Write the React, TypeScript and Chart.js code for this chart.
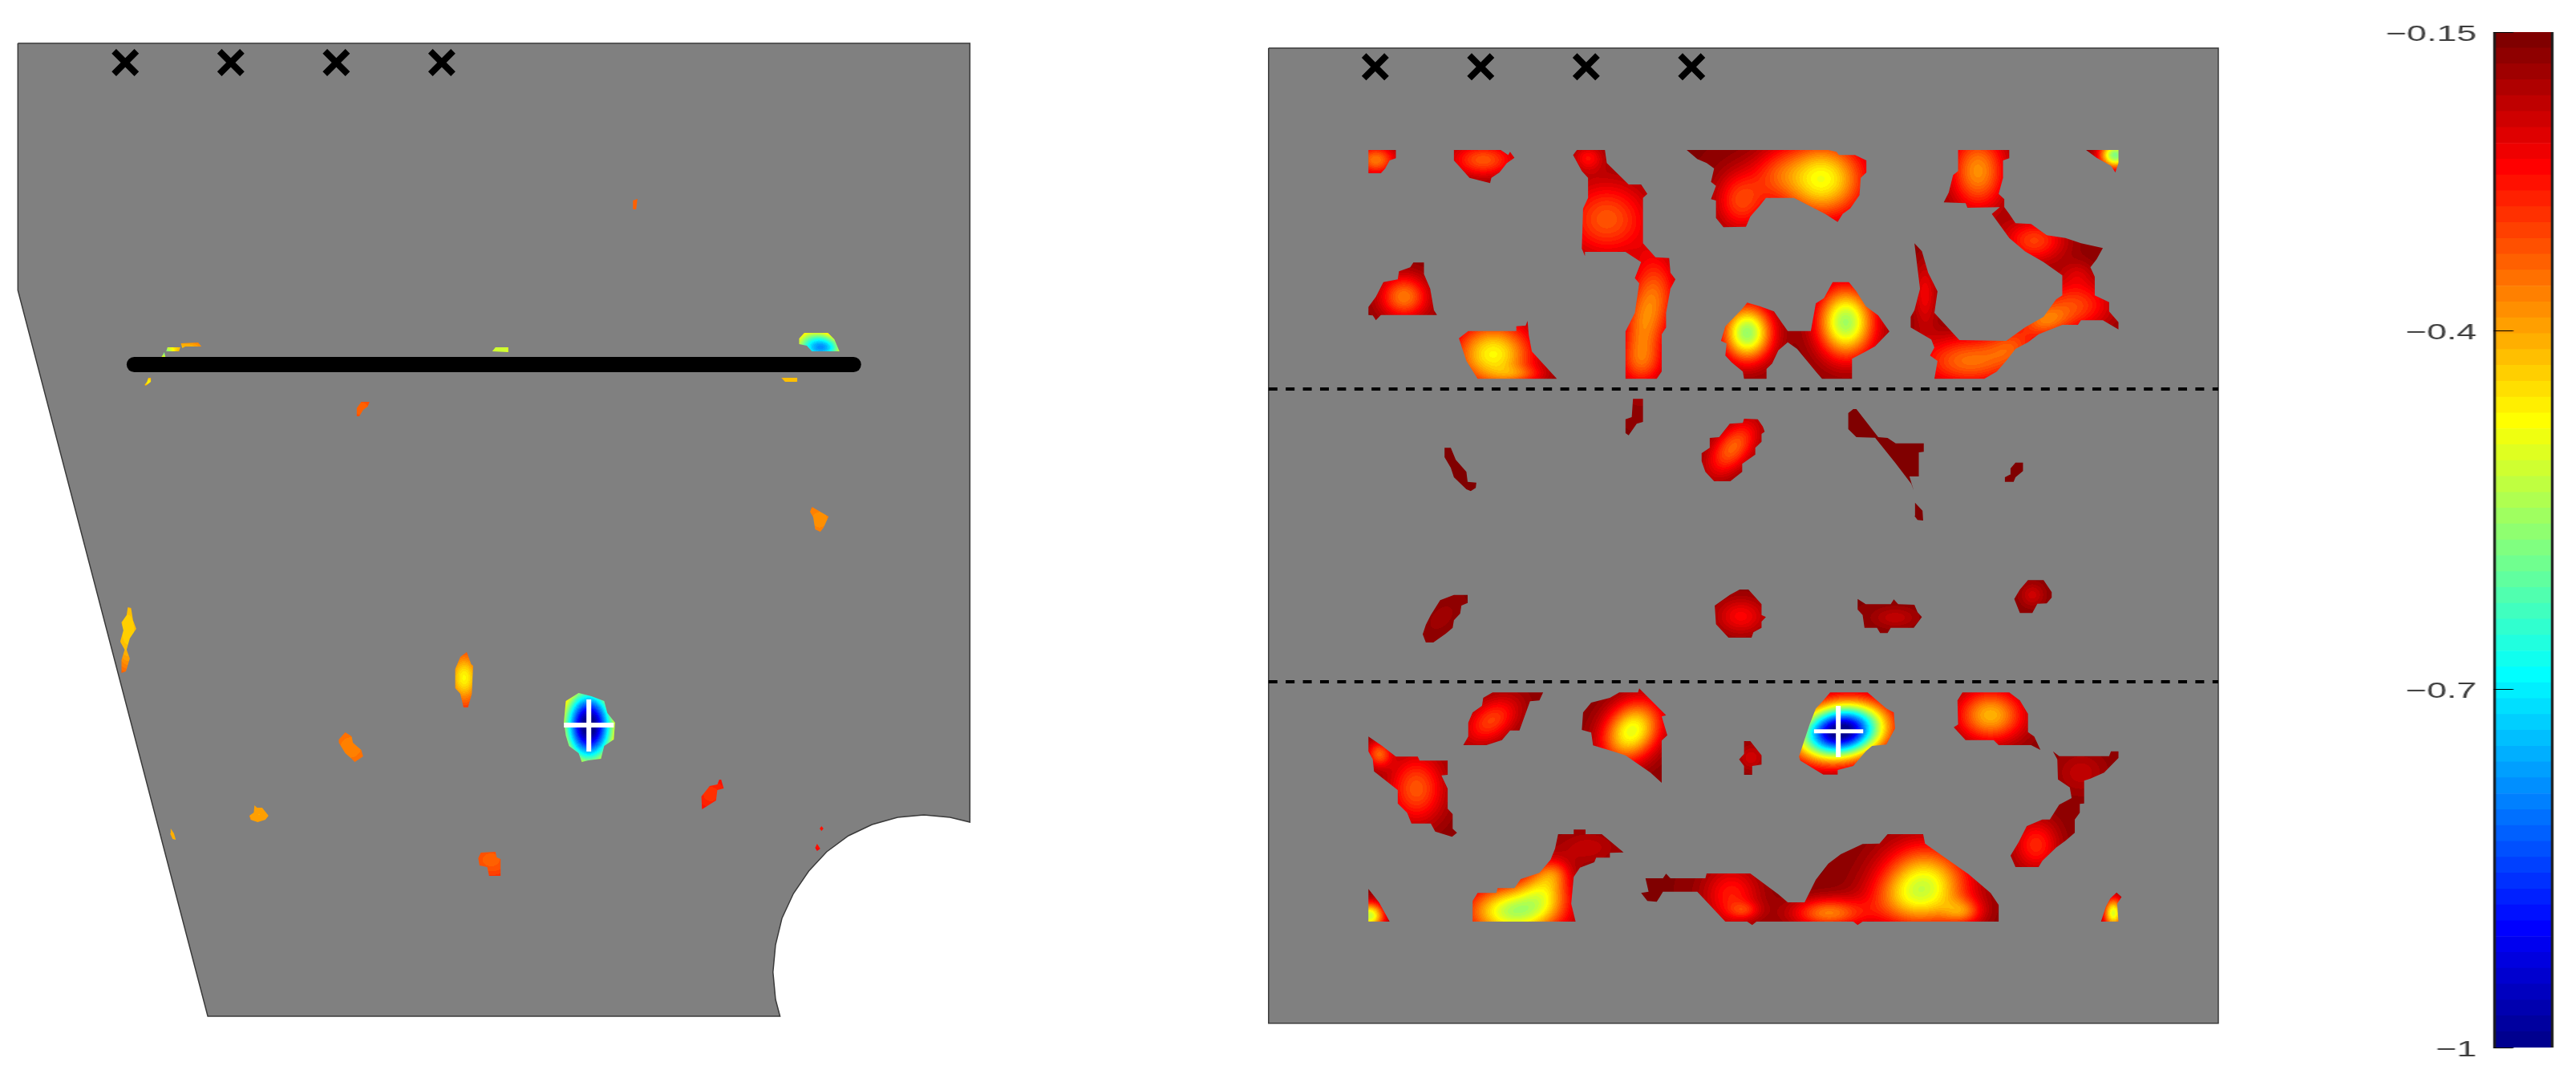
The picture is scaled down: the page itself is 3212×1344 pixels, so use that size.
import React, { useEffect, useRef } from "react";
import { Chart, registerables } from "chart.js";

Chart.register(...registerables);

type Pt = [number, number];
// [centre x, centre y, spread x, spread y, lean, depth below -0.15]
type Spot = [number, number, number, number, number, number];

const GREY = "#808080";
const LINE = "#3a3a3a";

/* ---------- left plate, x in plate units (0-1568), y in 0-1344 ---------- */
const LEFT_PLATE: Pt[] = [
  [28, 54], [1517, 54], [1517, 1025], [1486, 1019], [1445, 1016], [1404, 1019], [1364, 1028], [1327, 1042],
  [1293, 1062], [1265, 1086], [1241, 1114], [1223, 1145], [1213, 1178], [1209, 1212], [1213, 1246], [1220, 1267], [325, 1267],
  [28, 362], [28, 54],
];
const LEFT_MARKERS: Pt[] = [[196, 78], [361, 78], [526, 78], [691, 78]];
const LEFT_BAR: Pt[] = [[210, 454.5], [1335, 454.5]];
const LEFT_CROSS_V: Pt[] = [[921, 872], [921, 937]];
const LEFT_CROSS_H: Pt[] = [[882, 904], [960, 904]];
const LEFT_BLOBS: Pt[][] = [
  [[283, 428], [310, 427], [315, 432], [290, 432], [285, 434]],
  [[262, 433], [282, 433], [280, 438], [260, 438]],
  [[257, 439], [259, 446], [252, 446]],
  [[232, 471], [236, 471], [236, 476], [228, 481], [226, 480], [230, 476]],
  [[770, 438], [775, 433], [795, 433], [795, 439]],
  [[1222, 471], [1247, 471], [1247, 476], [1228, 476]],
  [[1258, 415], [1295, 415], [1305, 423], [1313, 438], [1270, 438], [1262, 431], [1250, 429], [1250, 422]],
  [[990, 250], [997, 248], [995, 261], [990, 261]],
  [[565, 501], [578, 501], [575, 507], [568, 511], [562, 519], [558, 519], [558, 509]],
  [[1270, 632], [1283, 638], [1296, 644], [1288, 658], [1283, 663], [1275, 660], [1272, 645], [1267, 638]],
  [[200, 757], [205, 758], [208, 773], [213, 784], [203, 796], [198, 810], [203, 821], [197, 837], [190, 839], [190, 823], [195, 810], [188, 800], [193, 786], [190, 776], [198, 767]],
  [[730, 813], [737, 828], [740, 830], [738, 865], [732, 882], [725, 882], [720, 865], [712, 858], [712, 834], [720, 819]],
  [[905, 864], [925, 868], [945, 874], [950, 889], [962, 901], [960, 922], [945, 930], [940, 946], [920, 948], [910, 950], [905, 939], [890, 930], [885, 917], [882, 900], [885, 874], [895, 869]],
  [[540, 913], [550, 918], [552, 926], [565, 935], [568, 943], [555, 950], [550, 946], [540, 939], [530, 926], [530, 922]],
  [[398, 1004], [402, 1007], [410, 1007], [420, 1017], [415, 1022], [403, 1025], [392, 1022], [390, 1017], [397, 1013]],
  [[267, 1033], [272, 1039], [275, 1047], [270, 1046], [266, 1039]],
  [[752, 1063], [775, 1062], [777, 1069], [783, 1071], [783, 1092], [765, 1092], [762, 1081], [750, 1079], [748, 1070]],
  [[1125, 972], [1128, 972], [1132, 983], [1122, 985], [1120, 998], [1098, 1009], [1097, 993], [1105, 985], [1110, 980], [1122, 978]],
  [[1285, 1030], [1288, 1033], [1285, 1036], [1282, 1033]],
  [[1278, 1052], [1283, 1058], [1278, 1061], [1275, 1057]],
];
const LEFT_SPOTS: Spot[] = [
  [292, 432, 40, 10, 0, 0.25], [256, 441, 12, 8, 0, 0.3], [232, 476, 12, 8, 0, 0.3],
  [782, 436, 40, 20, 0, 0.36], [1235, 474, 40, 20, 0, 0.26],
  [1290, 435, 26, 12, 0, 0.38], [1270, 424, 32, 18, 0, 0.3],
  [992, 255, 30, 30, 0, 0.18], [566, 510, 40, 30, 0, 0.18], [1282, 648, 50, 40, 0, 0.22],
  [200, 785, 30, 60, 0, 0.28], [726, 845, 14, 18, 0, 0.15], [726, 845, 60, 60, 0, 0.16],
  [921, 905, 30, 36, 0, 0.87],
  [548, 932, 50, 40, 0, 0.21], [405, 1016, 40, 40, 0, 0.24], [270, 1040, 30, 30, 0, 0.25],
  [768, 1072, 50, 30, 0, 0.18], [1112, 990, 40, 30, 0, 0.14], [1285, 1040, 40, 40, 0, 0.12],
];

/* ---------- right plate, x in plate units (0-1568), y in 0-3780 ---------- */
const RIGHT_PLATE: Pt[] = [[28, 60], [1550, 60], [1550, 3707], [28, 3707], [28, 60]];
const RIGHT_MARKERS: Pt[] = [[199, 130], [368, 130], [537, 130], [706, 130]];
const RIGHT_DASH_A: Pt[] = [[28, 1335], [1550, 1335]];
const RIGHT_DASH_B: Pt[] = [[28, 2430], [1550, 2430]];
const RIGHT_CROSS_V: Pt[] = [[941, 2520], [941, 2712]];
const RIGHT_CROSS_H: Pt[] = [[902, 2615], [981, 2615]];

const UPPER_BLOBS: Pt[][] = [
  [[188, 441], [232, 441], [232, 472], [222, 480], [215, 510], [208, 528], [188, 528]],
  [[325, 441], [400, 441], [412, 460], [415, 448], [422, 470], [410, 490], [398, 525], [385, 545], [383, 565], [350, 545], [325, 480]],
  [[522, 441], [567, 441], [570, 490], [605, 570], [625, 570], [635, 605], [628, 620], [628, 790], [648, 842], [670, 845], [672, 900], [680, 925], [672, 960], [665, 1050], [665, 1105], [658, 1130], [658, 1270], [650, 1297], [600, 1297], [600, 1120], [615, 1050], [622, 940], [615, 920], [625, 860], [600, 822], [535, 822], [535, 838], [530, 810], [532, 660], [540, 620], [540, 545], [530, 520], [516, 460]],
  [[698, 441], [925, 441], [938, 448], [942, 460], [968, 460], [986, 480], [986, 525], [977, 545], [975, 610], [960, 660], [948, 680], [940, 710], [920, 680], [870, 620], [825, 620], [815, 650], [800, 690], [793, 728], [757, 730], [745, 695], [745, 630], [737, 625], [745, 575], [737, 560], [742, 510], [730, 490], [715, 475]],
  [[1133, 441], [1215, 441], [1215, 472], [1205, 480], [1205, 545], [1198, 605], [1207, 625], [1207, 655], [1215, 680], [1225, 715], [1250, 718], [1275, 760], [1305, 770], [1330, 790], [1365, 808], [1355, 850], [1345, 880], [1352, 915], [1352, 985], [1375, 1010], [1375, 1045], [1390, 1085], [1390, 1112], [1365, 1078], [1330, 1078], [1325, 1095], [1300, 1095], [1262, 1130], [1245, 1160], [1225, 1185], [1210, 1230], [1195, 1270], [1175, 1297], [1095, 1297], [1100, 1230], [1088, 1210], [1095, 1180], [1090, 1150], [1057, 1105], [1057, 1065], [1063, 1040], [1072, 960], [1063, 790], [1075, 820], [1085, 900], [1100, 970], [1095, 1050], [1135, 1152], [1210, 1155], [1240, 1105], [1270, 1065], [1290, 1000], [1300, 985], [1300, 910], [1270, 860], [1240, 820], [1215, 770], [1187, 680], [1200, 655], [1148, 657], [1145, 640], [1110, 637], [1118, 600], [1125, 535], [1133, 520]],
  [[1338, 441], [1390, 441], [1390, 490], [1385, 525], [1378, 500], [1355, 470]],
  [[260, 862], [277, 862], [277, 905], [287, 960], [293, 1040], [298, 1058], [208, 1058], [200, 1078], [195, 1060], [188, 1058], [188, 1028], [200, 990], [212, 935], [235, 925], [237, 895], [255, 880]],
  [[348, 1118], [425, 1118], [425, 1100], [440, 1098], [443, 1080], [445, 1135], [450, 1195], [490, 1297], [363, 1297], [345, 1230], [333, 1145]],
  [[795, 1012], [815, 1025], [838, 1045], [850, 1085], [860, 1118], [897, 1118], [905, 1015], [918, 995], [932, 935], [958, 935], [970, 970], [985, 1025], [1005, 1060], [1023, 1120], [1000, 1175], [985, 1195], [963, 1222], [963, 1297], [915, 1297], [905, 1270], [875, 1185], [860, 1160], [845, 1190], [835, 1240], [826, 1260], [826, 1297], [790, 1297], [788, 1270], [770, 1235], [760, 1210], [762, 1165], [753, 1155], [760, 1100], [785, 1040]],
];
const UPPER_SPOTS: Spot[] = [
  [200, 478, 22, 38, 0, 0.2], [372, 478, 36, 45, 0, 0.17],
  [570, 700, 48, 100, 0, 0.17], [540, 470, 17, 34, 0, 0.1], [650, 980, 25, 110, 0, 0.15], [625, 1130, 23, 120, 0, 0.16], [625, 1240, 28, 56, 0, 0.08],
  [915, 550, 47, 100, 0, 0.32], [785, 630, 28, 78, 0, 0.15], [840, 530, 28, 67, 0, 0.08],
  [1165, 520, 31, 100, 0, 0.22], [1255, 780, 34, 56, 0, 0.15], [1320, 1020, 42, 67, 0, 0.15], [1270, 1080, 28, 45, 0, 0.15], [1150, 1230, 56, 67, 0, 0.19], [1220, 1170, 28, 56, 0, 0.11], [1080, 980, 14, 90, 0, 0.09], [1325, 900, 17, 34, 0, 0.04],
  [1385, 460, 17, 34, 0, 0.42], [245, 990, 27, 56, 0, 0.2], [388, 1205, 43, 84, 0, 0.31], [430, 1280, 28, 22, 0, 0.08],
  [795, 1125, 27, 72, 0, 0.4], [953, 1085, 31, 90, 0, 0.39],
];

const MIDDLE_BLOBS: Pt[][] = [
  [[310, 235], [320, 235], [328, 280], [345, 325], [347, 362], [361, 365], [360, 385], [352, 397], [345, 390], [325, 345], [320, 310], [310, 270]],
  [[612, 52], [628, 52], [628, 138], [618, 145], [612, 165], [605, 188], [600, 180], [600, 128], [610, 120]],
  [[790, 126], [812, 128], [820, 155], [823, 175], [818, 183], [818, 212], [808, 235], [808, 260], [787, 295], [787, 325], [768, 360], [742, 360], [728, 325], [722, 285], [722, 255], [735, 235], [735, 198], [750, 195], [767, 145], [788, 142]],
  [[957, 105], [965, 90], [970, 90], [1005, 195], [1020, 198], [1033, 218], [1078, 218], [1078, 250], [1070, 252], [1070, 342], [1055, 342], [1062, 395], [1058, 370], [1032, 290], [1000, 197], [970, 195], [957, 165]],
  [[1064, 440], [1076, 470], [1077, 507], [1068, 505], [1063, 490]],
  [[1225, 290], [1237, 290], [1237, 322], [1225, 345], [1222, 362], [1208, 362], [1208, 345], [1216, 335], [1217, 312]],
  [[325, 785], [347, 785], [347, 815], [337, 825], [335, 855], [325, 880], [323, 908], [312, 930], [292, 963], [280, 963], [275, 932], [280, 897], [288, 860], [303, 805]],
  [[783, 765], [797, 765], [818, 820], [818, 860], [825, 868], [818, 885], [818, 908], [805, 925], [802, 945], [765, 945], [745, 895], [743, 825], [767, 785]],
  [[972, 800], [985, 820], [1025, 820], [1030, 802], [1037, 820], [1063, 822], [1068, 850], [1075, 868], [1062, 908], [1025, 908], [1020, 928], [1008, 928], [1003, 908], [983, 908], [980, 860], [972, 840]],
  [[1245, 730], [1270, 730], [1283, 775], [1283, 795], [1275, 817], [1260, 818], [1252, 853], [1232, 853], [1223, 800], [1232, 765]],
];
const MIDDLE_SPOTS: Spot[] = [
  [772, 235, 24, 72, -0.2, 0.18], [305, 870, 15, 40, -0.2, 0.025], [785, 865, 28, 48, 0, 0.1], [1032, 870, 25, 28, 0, 0.05], [1252, 785, 14, 32, 0, 0.06],
];

const LOWER_BLOBS: Pt[][] = [
  [[387, 70], [468, 70], [462, 100], [447, 103], [430, 212], [415, 212], [402, 248], [377, 267], [340, 267], [348, 235], [348, 183], [355, 145], [370, 120], [372, 90]],
  [[622, 55], [665, 155], [658, 160], [667, 230], [658, 250], [658, 408], [640, 370], [600, 305], [580, 290], [548, 268], [545, 220], [530, 210], [532, 145], [545, 108], [575, 90], [590, 70], [620, 70]],
  [[928, 70], [988, 70], [1018, 130], [1030, 145], [1032, 205], [1018, 265], [995, 270], [985, 290], [965, 345], [940, 360], [940, 377], [917, 377], [880, 325], [878, 310], [885, 260], [895, 190], [905, 130], [915, 105]],
  [[790, 252], [800, 252], [818, 305], [818, 340], [803, 345], [803, 378], [790, 378], [790, 345], [782, 320], [790, 300]],
  [[1140, 70], [1215, 70], [1232, 100], [1245, 150], [1245, 218], [1255, 235], [1265, 285], [1250, 267], [1198, 267], [1190, 248], [1145, 248], [1126, 200], [1133, 190], [1132, 100]],
  [[188, 235], [210, 270], [232, 310], [267, 310], [270, 325], [315, 325], [315, 378], [305, 380], [315, 430], [315, 505], [323, 525], [323, 580], [330, 595], [322, 610], [295, 590], [288, 560], [257, 560], [250, 520], [235, 485], [235, 435], [197, 365], [195, 320], [188, 290]],
  [[1285, 290], [1295, 308], [1375, 308], [1378, 290], [1390, 290], [1390, 315], [1367, 370], [1345, 392], [1335, 400], [1335, 485], [1328, 487], [1328, 520], [1320, 545], [1320, 595], [1305, 625], [1290, 650], [1268, 700], [1262, 723], [1225, 723], [1217, 680], [1230, 630], [1243, 570], [1268, 545], [1280, 545], [1295, 490], [1315, 465], [1312, 425], [1293, 395], [1292, 320]],
  [[188, 805], [205, 855], [222, 927], [188, 927]],
  [[355, 927], [355, 850], [363, 820], [393, 820], [395, 802], [422, 802], [432, 768], [462, 745], [480, 695], [487, 655], [492, 600], [517, 600], [517, 583], [536, 583], [536, 600], [562, 600], [597, 668], [575, 670], [575, 688], [553, 688], [550, 705], [527, 725], [517, 760], [513, 860], [520, 927]],
  [[632, 765], [660, 765], [665, 748], [672, 765], [728, 765], [730, 747], [800, 747], [845, 825], [860, 855], [887, 855], [905, 770], [925, 710], [945, 675], [980, 637], [1007, 635], [1020, 600], [1077, 600], [1080, 635], [1150, 750], [1185, 820], [1198, 865], [1198, 927], [980, 927], [972, 940], [965, 927], [810, 927], [803, 940], [795, 927], [760, 927], [715, 815], [660, 815], [655, 835], [650, 853], [635, 850], [625, 820], [637, 815]],
  [[1387, 818], [1395, 835], [1388, 860], [1390, 927], [1362, 927], [1370, 870], [1377, 840]],
];
const LOWER_SPOTS: Spot[] = [
  [385, 175, 28, 62, -0.2, 0.15], [610, 215, 31, 78, -0.1, 0.33], [945, 215, 46, 70, -0.1, 0.87], [800, 315, 14, 34, 0, 0.06],
  [1185, 155, 37, 67, 0, 0.25], [265, 430, 31, 90, 0, 0.17], [205, 300, 14, 34, 0, 0.17], [1258, 640, 25, 67, 0, 0.13], [1330, 370, 28, 56, 0, 0.05],
  [190, 905, 16, 34, 0, 0.36], [420, 890, 50, 67, 0, 0.37], [470, 800, 28, 67, 0, 0.19], [485, 745, 17, 34, 0, 0.08], [540, 650, 34, 45, 0, 0.05],
  [1080, 790, 47, 100, 0, 0.32], [1140, 890, 22, 34, 0, 0.14], [770, 830, 31, 78, 0, 0.12], [790, 885, 17, 22, 0, 0.08], [925, 895, 39, 39, 0, 0.2], [1040, 850, 45, 67, 0, 0.08],
  [1382, 895, 11, 39, 0, 0.34],
];

/* ---------- colour bar ---------- */
const COLORBAR_EDGES: number[] = [
  -1, -0.9867, -0.9734, -0.9602, -0.9469, -0.9336, -0.9203, -0.907, -0.8938, -0.8805, -0.8672, -0.8539, -0.8406, -0.8273, -0.8141, -0.8008,
  -0.7875, -0.7742, -0.7609, -0.7477, -0.7344, -0.7211, -0.7078, -0.6945, -0.6813, -0.668, -0.6547, -0.6414, -0.6281, -0.6148, -0.6016, -0.5883,
  -0.575, -0.5617, -0.5484, -0.5352, -0.5219, -0.5086, -0.4953, -0.482, -0.4688, -0.4555, -0.4422, -0.4289, -0.4156, -0.4023, -0.3891, -0.3758,
  -0.3625, -0.3492, -0.3359, -0.3227, -0.3094, -0.2961, -0.2828, -0.2695, -0.2563, -0.243, -0.2297, -0.2164, -0.2031, -0.1898, -0.1766, -0.1633, -0.15,
];
const COLORBAR_COLORS: string[] = [
  "#00008F", "#00009F", "#0000AF", "#0000BF", "#0000CF", "#0000DF", "#0000EF", "#0000FF",
  "#0010FF", "#0020FF", "#0030FF", "#0040FF", "#0050FF", "#0060FF", "#0070FF", "#0080FF",
  "#008FFF", "#009FFF", "#00AFFF", "#00BFFF", "#00CFFF", "#00DFFF", "#00EFFF", "#00FFFF",
  "#10FFEF", "#20FFDF", "#30FFCF", "#40FFBF", "#50FFAF", "#60FF9F", "#70FF8F", "#80FF80",
  "#8FFF70", "#9FFF60", "#AFFF50", "#BFFF40", "#CFFF30", "#DFFF20", "#EFFF10", "#FFFF00",
  "#FFEF00", "#FFDF00", "#FFCF00", "#FFBF00", "#FFAF00", "#FF9F00", "#FF8F00", "#FF8000",
  "#FF7000", "#FF6000", "#FF5000", "#FF4000", "#FF3000", "#FF2000", "#FF1000", "#FF0000",
  "#EF0000", "#DF0000", "#CF0000", "#BF0000", "#AF0000", "#9F0000", "#8F0000", "#800000",
];
const COLORBAR_TICKS: number[] = [-1, -0.7, -0.4, -0.15];

/* ---------- helpers ---------- */
const BASE_DEPTH = 0.012;
const shiftY = (pts: Pt[], dy: number): Pt[] => pts.map(([x, y]) => [x, y + dy] as Pt);
const shiftSpots = (spots: Spot[], dy: number): Spot[] =>
  spots.map(([x, y, a, b, c, d]) => [x, y + dy, a, b, c, d] as Spot);
const toXY = (pts: Pt[]) => pts.map(([x, y]) => ({ x, y }));

function fieldPattern(chart: any, spots: Spot[]) {
  const W = chart.width;
  const H = chart.height;
  const xs = new Float32Array(W);
  const ys = new Float32Array(H);
  for (let i = 0; i < W; i++) xs[i] = chart.scales.x.getValueForPixel(i + 0.5);
  for (let j = 0; j < H; j++) ys[j] = chart.scales.y.getValueForPixel(j + 0.5);
  const depth = new Float32Array(W * H);
  for (const [cx, cy, sx, sy, lean, amp] of spots) {
    for (let j = 0; j < H; j++) {
      const dy = (ys[j] - cy) / sy;
      if (Math.abs(dy) > 4) continue;
      const mid = cx + lean * (ys[j] - cy);
      for (let i = 0; i < W; i++) {
        const dx = (xs[i] - mid) / sx;
        if (Math.abs(dx) > 4) continue;
        depth[j * W + i] += amp * Math.exp(-0.5 * (dx * dx + dy * dy));
      }
    }
  }
  const rgb = COLORBAR_COLORS.map((c) => [
    parseInt(c.slice(1, 3), 16),
    parseInt(c.slice(3, 5), 16),
    parseInt(c.slice(5, 7), 16),
  ]);
  const off = document.createElement("canvas");
  off.width = W;
  off.height = H;
  const octx = off.getContext("2d")!;
  const img = octx.createImageData(W, H);
  const lo = COLORBAR_EDGES[0];
  const hi = COLORBAR_EDGES[COLORBAR_EDGES.length - 1];
  for (let p = 0; p < W * H; p++) {
    const v = hi - BASE_DEPTH - depth[p];
    const idx = Math.max(0, Math.min(rgb.length - 1, Math.floor(((v - lo) / (hi - lo)) * rgb.length)));
    const c = rgb[idx];
    img.data[p * 4] = c[0];
    img.data[p * 4 + 1] = c[1];
    img.data[p * 4 + 2] = c[2];
    img.data[p * 4 + 3] = 255;
  }
  octx.putImageData(img, 0, 0);
  return chart.ctx.createPattern(off, "no-repeat");
}

const lineSet = (label: string, pts: Pt[], color: string, width: number, extra: any = {}) => ({
  label,
  data: toXY(pts),
  showLine: true,
  borderColor: color,
  borderWidth: width,
  pointRadius: 0,
  tension: 0,
  fill: false,
  ...extra,
});
const markerSet = (label: string, pts: Pt[]) => ({
  label,
  data: toXY(pts),
  showLine: false,
  pointStyle: "crossRot",
  pointRadius: 20,
  pointBorderWidth: 8,
  pointBorderColor: "#000",
});
const blobSets = (blobs: Pt[][]) =>
  blobs.map((b, i) =>
    lineSet(`blob ${i}`, [...b, b[0]], "rgba(0,0,0,0)", 0, { fill: "shape", backgroundColor: "#800000", isBlob: true }),
  );

function plateChart(canvas: HTMLCanvasElement, yMax: number, datasets: any[], spots: Spot[]) {
  const chart = new Chart(canvas, {
    type: "scatter",
    data: { datasets },
    options: {
      responsive: false,
      maintainAspectRatio: false,
      devicePixelRatio: 1,
      animation: false,
      events: [],
      layout: { padding: 0, autoPadding: false },
      plugins: { legend: { display: false }, tooltip: { enabled: false } },
      scales: {
        x: { type: "linear", display: false, min: 0, max: 1568 },
        y: { type: "linear", display: false, min: 0, max: yMax, reverse: true },
      },
    },
  } as any);
  const pattern = fieldPattern(chart, spots);
  chart.data.datasets.forEach((d: any) => {
    if (d.isBlob) d.backgroundColor = pattern;
  });
  chart.update();
  return chart;
}

const colorbarFrame = {
  id: "colorbarFrame",
  afterDatasetsDraw(chart: any) {
    const { ctx, chartArea: a, scales } = chart;
    ctx.save();
    ctx.strokeStyle = "#1c1c1c";
    ctx.lineWidth = 2;
    ctx.beginPath();
    ctx.moveTo(a.left + 1, a.top);
    ctx.lineTo(a.left + 1, a.bottom);
    ctx.moveTo(a.right - 1, a.top);
    ctx.lineTo(a.right - 1, a.bottom);
    ctx.stroke();
    ctx.lineWidth = 1;
    ctx.strokeStyle = "#000";
    ctx.beginPath();
    for (const t of COLORBAR_TICKS) {
      const y = Math.round(scales.y.getPixelForValue(t)) + 0.5;
      ctx.moveTo(a.left, y);
      ctx.lineTo(a.left + 15.6, y);
    }
    ctx.stroke();
    ctx.restore();
  },
};

const BAR_STRETCH = 1.6;

export default function App() {
  const leftRef = useRef<HTMLCanvasElement>(null);
  const rightRef = useRef<HTMLCanvasElement>(null);
  const barRef = useRef<HTMLCanvasElement>(null);

  useEffect(() => {
    const left = plateChart(
      leftRef.current!,
      1344,
      [
        lineSet("cross h", LEFT_CROSS_H, "#fff", 6),
        lineSet("cross v", LEFT_CROSS_V, "#fff", 6),
        markerSet("sensors", LEFT_MARKERS),
        lineSet("crack", LEFT_BAR, "#000", 19, { borderCapStyle: "round" }),
        ...blobSets(LEFT_BLOBS),
        lineSet("plate", LEFT_PLATE, LINE, 1.5, { fill: "shape", backgroundColor: GREY }),
      ],
      LEFT_SPOTS,
    );
    const right = plateChart(
      rightRef.current!,
      3780,
      [
        lineSet("cross h", RIGHT_CROSS_H, "#fff", 5),
        lineSet("cross v", RIGHT_CROSS_V, "#fff", 6),
        markerSet("sensors", RIGHT_MARKERS),
        lineSet("dash a", RIGHT_DASH_A, "#000", 4, { borderDash: [11, 10.4] }),
        lineSet("dash b", RIGHT_DASH_B, "#000", 4, { borderDash: [11, 10.4] }),
        ...blobSets(UPPER_BLOBS),
        ...blobSets(MIDDLE_BLOBS.map((b) => shiftY(b, 1320))),
        ...blobSets(LOWER_BLOBS.map((b) => shiftY(b, 2400))),
        lineSet("plate", RIGHT_PLATE, LINE, 1.5, { fill: "shape", backgroundColor: GREY }),
      ],
      [...UPPER_SPOTS, ...shiftSpots(MIDDLE_SPOTS, 1320), ...shiftSpots(LOWER_SPOTS, 2400)],
    );
    const bar = new Chart(barRef.current!, {
      type: "bar",
      data: {
        labels: ["level"],
        datasets: COLORBAR_COLORS.map((c, i) => ({
          label: `band ${i}`,
          data: [[COLORBAR_EDGES[i], COLORBAR_EDGES[i + 1]]],
          backgroundColor: c,
          borderWidth: 0,
          grouped: false,
          barPercentage: 1,
          categoryPercentage: 1,
        })),
      },
      options: {
        responsive: false,
        maintainAspectRatio: false,
        devicePixelRatio: 1,
        animation: false,
        events: [],
        layout: { padding: { left: 0, right: 10, top: 40, bottom: 38 }, autoPadding: false },
        plugins: { legend: { display: false }, tooltip: { enabled: false } },
        scales: {
          x: { display: false },
          y: {
            type: "linear",
            min: -1,
            max: -0.15,
            grid: { display: false, drawTicks: false },
            border: { display: false },
            afterFit: (s: any) => {
              s.width = 93.1;
            },
            afterBuildTicks: (s: any) => {
              s.ticks = COLORBAR_TICKS.map((value) => ({ value }));
            },
            ticks: {
              autoSkip: false,
              padding: 13,
              labelOffset: 3,
              color: "#3c3c3c",
              font: { family: "'Liberation Sans'", size: 28 },
              callback: (v: any) => `\u2212${Math.abs(Number(v))}`,
            },
          },
        },
      },
      plugins: [colorbarFrame],
    } as any);
    return () => {
      left.destroy();
      right.destroy();
      bar.destroy();
    };
  }, []);

  return (
    <div style={{ position: "absolute", left: 0, top: 0, width: 3212, height: 1344, overflow: "hidden", background: "#fff" }}>
      <canvas ref={leftRef} width={1250} height={1344} style={{ position: "absolute", left: 0, top: 0 }} />
      <canvas ref={rightRef} width={1220} height={1260} style={{ position: "absolute", left: 1560, top: 40 }} />
      <div
        style={{
          position: "absolute",
          left: 2960,
          top: 0,
          width: 150,
          height: 1344,
          transform: `scaleX(${BAR_STRETCH})`,
          transformOrigin: "left top",
        }}
      >
        <canvas ref={barRef} width={150} height={1344} />
      </div>
    </div>
  );
}
